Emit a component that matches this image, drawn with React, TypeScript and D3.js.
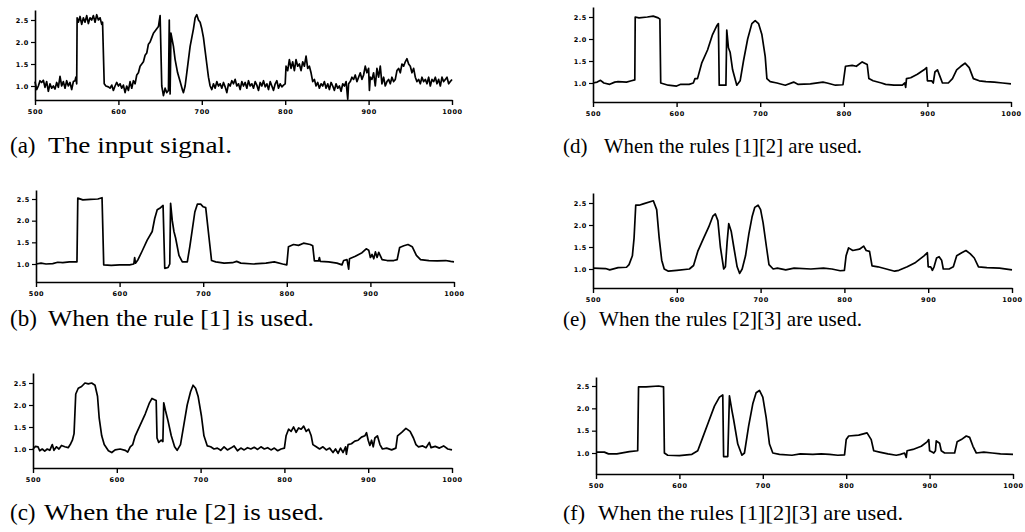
import React, { useEffect, useRef } from "react"
import * as d3 from "d3"

type Pt = [number, number]

// (a) the noisy input signal
const signalA: Pt[] = [
  [500, 1.1], [502, 0.92], [504, 1.0], [506, 1.12], [508, 1.08], [510, 1.13], [512, 0.97], [514, 1.1],
  [516, 0.88], [518, 1.05], [520, 0.95], [522, 1.0], [524, 0.93], [526, 1.08], [528, 0.97], [530, 1.22],
  [532, 1.0], [534, 1.1], [536, 0.95], [538, 1.12], [540, 1.0], [542, 1.08], [544, 0.92], [546, 1.1],
  [548, 1.12], [549, 1.2], [550, 1.05], [550.5, 2.55], [552, 2.45], [554, 2.58], [556, 2.4], [558, 2.55],
  [560, 2.45], [562, 2.6], [564, 2.42], [566, 2.55], [568, 2.5], [570, 2.6], [572, 2.45], [574, 2.62],
  [576, 2.5], [578, 2.55], [580, 2.4], [581, 2.45], [583, 1.05], [585, 1.0], [588, 0.98], [590, 0.95],
  [592, 1.02], [594, 0.9], [596, 1.0], [598, 1.08], [600, 1.0], [602, 1.05], [604, 0.95], [606, 1.02],
  [608, 0.85], [610, 1.0], [612, 0.9], [614, 1.1], [616, 0.95], [618, 1.12], [620, 1.05], [622, 1.25],
  [624, 1.3], [626, 1.45], [628, 1.5], [630, 1.55], [632, 1.7], [634, 1.75], [636, 1.95], [638, 2.0],
  [640, 2.1], [642, 2.2], [644, 2.25], [646, 2.3], [648, 2.35], [650, 2.6], [652, 1.0], [654, 0.78],
  [656, 0.95], [658, 0.85], [660, 0.9], [661, 2.5], [662, 0.82], [663, 2.2], [666, 1.9], [668, 1.6],
  [671, 1.3], [674, 1.1], [677, 0.9], [678, 0.85], [680, 1.0], [682, 1.3], [684, 1.6], [686, 1.9],
  [688, 2.1], [690, 2.3], [692, 2.55], [694, 2.62], [696, 2.5], [698, 2.45], [700, 2.3], [702, 2.1],
  [704, 1.8], [706, 1.5], [708, 1.2], [710, 1.0], [712, 0.92], [714, 1.05], [716, 0.95], [718, 1.1],
  [720, 1.0], [722, 1.05], [724, 0.95], [726, 1.08], [728, 0.98], [730, 0.85], [732, 1.05], [734, 1.0],
  [736, 1.12], [738, 1.05], [740, 1.15], [742, 1.0], [744, 1.05], [746, 0.92], [748, 1.1], [750, 1.0],
  [752, 1.08], [754, 0.95], [756, 1.12], [758, 1.0], [760, 1.05], [762, 0.95], [764, 1.1], [766, 1.02],
  [768, 0.9], [770, 1.08], [772, 1.0], [774, 1.12], [776, 0.98], [778, 1.05], [780, 0.92], [782, 1.1],
  [784, 1.0], [786, 0.9], [788, 1.05], [790, 1.12], [792, 0.95], [794, 1.05], [796, 0.98], [798, 1.02],
  [800, 1.05], [801, 1.45], [803, 1.35], [805, 1.6], [807, 1.4], [809, 1.55], [811, 1.35], [813, 1.6],
  [815, 1.45], [817, 1.5], [819, 1.35], [821, 1.55], [823, 1.45], [825, 1.68], [827, 1.4], [829, 1.45],
  [831, 1.3], [833, 1.1], [835, 1.15], [837, 1.0], [839, 1.08], [841, 0.95], [843, 1.05], [845, 1.0],
  [847, 1.1], [849, 0.95], [851, 1.05], [853, 0.92], [855, 1.08], [857, 1.0], [859, 0.9], [861, 1.05],
  [863, 0.95], [865, 1.0], [867, 0.88], [869, 1.05], [871, 1.0], [873, 1.1], [875, 0.7], [876, 1.05],
  [878, 1.1], [880, 1.2], [882, 1.15], [884, 1.25], [886, 1.1], [888, 1.2], [890, 1.3], [892, 1.15],
  [894, 1.25], [896, 1.45], [898, 1.3], [900, 1.4], [901, 0.9], [902, 1.2], [904, 1.15], [906, 1.3],
  [908, 1.0], [910, 1.4], [912, 1.2], [914, 1.45], [916, 1.05], [918, 1.2], [920, 1.0], [922, 1.1],
  [924, 1.15], [926, 1.05], [928, 1.2], [930, 1.1], [932, 1.15], [934, 1.35], [936, 1.4], [938, 1.3],
  [940, 1.5], [942, 1.45], [944, 1.55], [946, 1.62], [948, 1.5], [950, 1.45], [952, 1.3], [954, 1.4],
  [956, 1.2], [958, 1.1], [960, 1.15], [962, 1.05], [964, 1.2], [966, 1.1], [968, 1.15], [970, 1.05],
  [972, 1.2], [974, 1.0], [976, 1.15], [978, 1.1], [980, 1.2], [982, 1.05], [984, 1.15], [986, 1.0],
  [988, 1.2], [990, 1.1], [992, 1.15], [994, 1.2], [996, 1.05], [998, 1.1], [1000, 1.15],
]

// (b) rule [1]
const signalB: Pt[] = [
  [500, 1.0], [506, 1.02], [512, 1.0], [520, 1.01], [526, 1.04], [532, 1.03], [540, 1.05], [549, 1.05],
  [550, 2.52], [556, 2.48], [565, 2.49], [574, 2.5], [579, 2.53], [581, 0.98], [590, 0.97], [600, 0.98],
  [612, 0.98], [617, 1.0], [618, 1.15], [619, 1.02], [622, 1.1], [627, 1.3], [633, 1.55], [639, 1.75],
  [642, 2.05], [645, 2.25], [649, 2.3], [652, 2.35], [654, 0.9], [658, 0.92], [660, 1.0], [661, 2.4],
  [663, 2.0], [665, 1.75], [667, 1.6], [671, 1.2], [675, 1.05], [681, 1.05], [684, 1.4], [687, 1.8],
  [690, 2.2], [693, 2.38], [697, 2.38], [700, 2.32], [703, 2.3], [707, 1.6], [710, 1.08], [715, 1.05],
  [725, 1.02], [735, 1.03], [740, 1.06], [745, 1.02], [760, 1.0], [775, 1.02], [785, 1.05], [795, 1.0],
  [800, 0.98], [802, 1.4], [808, 1.45], [814, 1.43], [820, 1.48], [828, 1.45], [831, 1.42], [833, 1.07],
  [838, 1.07], [839, 1.15], [840, 1.06], [850, 1.05], [860, 1.02], [866, 0.98], [868, 1.08], [872, 1.1],
  [874, 0.88], [875, 1.12], [882, 1.18], [890, 1.26], [895, 1.35], [898, 1.32], [900, 1.15], [902, 1.22],
  [904, 1.12], [906, 1.28], [908, 1.15], [910, 1.27], [914, 1.1], [920, 1.08], [928, 1.08], [932, 1.1],
  [935, 1.38], [940, 1.42], [945, 1.45], [950, 1.4], [955, 1.2], [960, 1.1], [970, 1.08], [980, 1.07],
  [990, 1.08], [996, 1.06], [1000, 1.05],
]

// (c) rule [2]
const signalC: Pt[] = [
  [500, 1.0], [503, 1.06], [506, 1.05], [508, 0.96], [511, 1.0], [514, 0.95], [517, 1.0], [520, 0.97],
  [523, 1.1], [525, 0.97], [528, 1.05], [531, 1.0], [534, 1.08], [538, 1.05], [542, 1.03], [545, 1.12],
  [547, 1.2], [549, 1.35], [551, 2.25], [554, 2.38], [558, 2.42], [562, 2.5], [566, 2.48], [570, 2.5],
  [574, 2.45], [577, 2.2], [579, 1.7], [582, 1.3], [585, 1.1], [590, 0.96], [594, 0.92], [598, 0.98],
  [604, 1.0], [610, 0.97], [613, 0.93], [616, 1.05], [619, 1.1], [622, 1.3], [628, 1.55], [634, 1.8],
  [639, 2.05], [642, 2.15], [645, 2.12], [647, 2.1], [648, 1.25], [650, 1.15], [653, 1.2], [655, 1.17],
  [656, 2.05], [658, 1.88], [661, 1.65], [665, 1.3], [669, 1.05], [672, 0.97], [676, 1.1], [680, 1.55],
  [684, 2.0], [688, 2.3], [691, 2.45], [694, 2.38], [697, 2.2], [701, 1.75], [704, 1.3], [708, 1.07],
  [712, 1.05], [716, 1.0], [720, 1.02], [724, 0.97], [728, 1.05], [732, 0.98], [736, 1.02], [740, 1.07],
  [744, 0.96], [748, 1.02], [752, 0.98], [756, 1.03], [760, 1.0], [764, 1.04], [768, 0.99], [772, 1.05],
  [776, 1.0], [780, 1.03], [784, 0.98], [788, 1.02], [792, 0.96], [796, 1.0], [800, 1.02], [802, 1.3],
  [805, 1.45], [808, 1.4], [811, 1.5], [814, 1.38], [817, 1.48], [820, 1.45], [823, 1.52], [826, 1.4],
  [829, 1.45], [832, 1.3], [834, 1.1], [838, 1.05], [842, 1.0], [846, 1.05], [850, 0.98], [854, 1.02],
  [858, 0.92], [861, 1.0], [864, 0.9], [867, 1.02], [870, 0.92], [873, 1.05], [874, 0.88], [876, 1.1],
  [880, 1.12], [884, 1.18], [888, 1.2], [892, 1.27], [896, 1.3], [898, 1.37], [900, 1.2], [902, 1.08],
  [904, 1.2], [906, 1.05], [908, 1.25], [911, 1.3], [914, 1.1], [917, 1.0], [922, 1.02], [928, 0.98],
  [933, 1.02], [935, 1.3], [940, 1.38], [945, 1.47], [950, 1.4], [954, 1.25], [957, 1.1], [960, 1.05],
  [965, 1.07], [969, 1.03], [973, 1.15], [975, 1.03], [980, 1.06], [985, 1.02], [990, 1.07], [995, 1.0],
  [1000, 0.98],
]

// (d) rules [1][2]
const signalD: Pt[] = [
  [500, 1.0], [505, 1.02], [509, 1.06], [513, 1.0], [520, 0.97], [526, 1.02], [530, 1.03], [540, 1.02],
  [546, 1.05], [550, 1.07], [550.5, 2.5], [555, 2.48], [565, 2.5], [572, 2.52], [578, 2.48], [580, 2.45],
  [581, 1.0], [590, 0.95], [600, 0.93], [605, 0.97], [615, 0.97], [620, 1.0], [622, 1.1], [625, 1.1],
  [630, 1.45], [637, 1.75], [643, 2.1], [648, 2.3], [650, 2.35], [651, 0.95], [659, 0.95], [660, 2.2],
  [662, 1.8], [664, 1.7], [667, 1.3], [672, 0.95], [676, 1.05], [680, 1.5], [685, 2.0], [690, 2.35],
  [694, 2.42], [698, 2.35], [702, 2.1], [706, 1.6], [708, 1.1], [712, 1.03], [720, 1.0], [730, 0.95],
  [740, 1.02], [745, 0.97], [760, 0.98], [775, 1.02], [780, 1.0], [790, 0.95], [799, 0.96], [802, 1.38],
  [810, 1.4], [815, 1.38], [822, 1.48], [828, 1.42], [830, 1.1], [835, 1.05], [845, 1.0], [850, 0.97],
  [860, 0.95], [870, 0.95], [873, 1.0], [874, 0.9], [875, 1.1], [880, 1.12], [888, 1.2], [896, 1.3],
  [899, 1.35], [900, 1.05], [905, 1.05], [907, 1.0], [909, 1.25], [912, 1.3], [915, 1.15], [918, 1.0],
  [925, 1.0], [930, 1.1], [935, 1.3], [940, 1.38], [945, 1.45], [950, 1.35], [955, 1.1], [962, 1.05],
  [970, 1.03], [980, 1.02], [990, 1.0], [1000, 0.98],
]

// (e) rules [2][3]
const signalE: Pt[] = [
  [500, 1.02], [515, 1.01], [520, 0.98], [530, 1.03], [540, 1.04], [543, 1.1], [547, 1.3], [549, 1.7],
  [551, 2.45], [555, 2.45], [560, 2.48], [572, 2.55], [576, 2.35], [579, 1.7], [582, 1.2], [585, 1.0],
  [590, 0.95], [600, 0.97], [615, 1.0], [620, 1.08], [625, 1.4], [632, 1.7], [638, 1.95], [643, 2.2],
  [646, 2.25], [649, 2.1], [652, 1.5], [656, 1.0], [658, 1.05], [660, 1.6], [662, 2.03], [665, 1.85],
  [668, 1.5], [672, 1.05], [675, 0.9], [678, 1.0], [682, 1.3], [686, 1.8], [690, 2.2], [693, 2.4],
  [697, 2.45], [700, 2.35], [703, 2.05], [707, 1.5], [710, 1.1], [715, 1.0], [720, 1.02], [730, 0.98],
  [740, 1.02], [760, 1.0], [775, 1.02], [785, 1.0], [795, 0.96], [800, 0.97], [802, 1.3], [805, 1.48],
  [810, 1.42], [818, 1.45], [823, 1.52], [826, 1.42], [830, 1.4], [833, 1.07], [840, 1.05], [850, 1.0],
  [860, 0.95], [865, 0.97], [875, 1.05], [885, 1.15], [895, 1.3], [899, 1.37], [900, 1.05], [903, 1.05],
  [905, 0.97], [907, 1.05], [910, 1.25], [913, 1.28], [916, 1.2], [918, 1.0], [925, 1.0], [930, 1.05],
  [934, 1.3], [940, 1.37], [945, 1.42], [950, 1.35], [955, 1.25], [960, 1.05], [970, 1.03], [985, 1.02],
  [1000, 0.98],
]

// (f) rules [1][2][3]
const signalF: Pt[] = [
  [500, 1.02], [510, 1.02], [515, 0.98], [525, 0.98], [540, 1.03], [550, 1.05], [551, 2.48], [560, 2.48],
  [575, 2.5], [581, 2.48], [582, 1.0], [586, 0.95], [600, 0.94], [615, 0.97], [622, 1.05], [628, 1.35],
  [635, 1.7], [642, 2.05], [648, 2.25], [652, 2.3], [653, 0.92], [658, 0.92], [660, 2.28], [663, 1.95],
  [665, 1.75], [670, 1.2], [675, 0.95], [678, 1.0], [683, 1.6], [688, 2.1], [692, 2.35], [696, 2.4],
  [700, 2.25], [704, 1.8], [708, 1.2], [712, 1.0], [720, 0.97], [735, 0.95], [745, 0.98], [760, 0.97],
  [770, 0.98], [780, 0.97], [790, 0.95], [798, 0.96], [800, 1.3], [803, 1.38], [815, 1.4], [825, 1.45],
  [830, 1.3], [833, 1.05], [840, 1.02], [850, 0.98], [860, 0.95], [865, 0.97], [870, 1.0], [872, 0.9],
  [873, 1.05], [880, 1.08], [890, 1.15], [897, 1.25], [899, 1.3], [900, 1.05], [903, 1.02], [905, 1.0],
  [907, 1.05], [908, 1.27], [912, 1.22], [914, 1.05], [918, 1.0], [925, 1.0], [930, 1.0], [933, 1.25],
  [938, 1.3], [944, 1.38], [948, 1.35], [952, 1.15], [956, 1.0], [965, 1.02], [975, 1.0], [985, 0.98],
  [1000, 0.97],
]

const xTicks = [500, 600, 700, 800, 900, 1000]
const yTicks = [1.0, 1.5, 2.0, 2.5]

const captionLabels = ["(a)", "(b)", "(c)", "(d)", "(e)", "(f)"]
const captionTexts = [
  "The input signal.",
  "When the rule [1] is used.",
  "When the rule [2] is used.",
  "When the rules [1][2] are used.",
  "When the rules [2][3] are used.",
  "When the rules [1][2][3] are used.",
]
const series = [signalA, signalB, signalC, signalD, signalE, signalF]

// pixel frame of each panel: axis extents, where 1.0 and 2.5 fall, caption placement
const frames = [
  { left: 35, right: 452, top: 10, bottom: 100, y1: 86, y25: 20, capY: 153, labX: 10, txtX: 48, txtW: 184, fs: 23 },
  { left: 36, right: 454, top: 190, bottom: 282, y1: 264, y25: 199, capY: 326, labX: 10, txtX: 48, txtW: 266, fs: 23 },
  { left: 33, right: 452, top: 373, bottom: 468, y1: 449, y25: 383, capY: 520, labX: 10, txtX: 44, txtW: 280, fs: 23 },
  { left: 593, right: 1011, top: 7, bottom: 102, y1: 83, y25: 17, capY: 153, labX: 563, txtX: 604, txtW: 258, fs: 21 },
  { left: 593, right: 1012, top: 193, bottom: 288, y1: 269, y25: 203, capY: 326, labX: 563, txtX: 599, txtW: 263, fs: 21 },
  { left: 596, right: 1013, top: 377, bottom: 474, y1: 453, y25: 386, capY: 520, labX: 563, txtX: 598, txtW: 305, fs: 22 },
]

const App = () => {
  const ref = useRef<SVGSVGElement>(null)

  useEffect(() => {
    const svg = d3.select(ref.current)
    svg.selectAll("*").remove()

    frames.forEach((f, i) => {
      const x = d3.scaleLinear().domain([500, 1000]).range([f.left, f.right])
      const base = d3.scaleLinear().domain([1, 2.5]).range([f.y1, f.y25])
      const y = d3
        .scaleLinear()
        .domain([base.invert(f.bottom), base.invert(f.top)])
        .range([f.bottom, f.top])

      const g = svg.append("g")

      g.append("g")
        .attr("transform", `translate(0,${f.bottom})`)
        .call(
          d3
            .axisBottom(x)
            .tickValues(xTicks)
            .tickFormat(d3.format("d"))
            .tickSize(5)
            .tickSizeOuter(0)
        )
        .call(a => a.select(".domain").attr("stroke-width", 1.6))
        .call(a => a.selectAll(".tick line").attr("stroke-width", 1.4))
        .call(a =>
          a
            .selectAll("text")
            .attr("dy", "0.9em")
            .attr("font-size", 6.5)
            .attr("font-weight", "bold")
            .attr("letter-spacing", 0.6)
            .attr("font-family", "DejaVu Sans")
        )

      g.append("g")
        .attr("transform", `translate(${f.left},0)`)
        .call(
          d3
            .axisLeft(y)
            .tickValues(yTicks)
            .tickFormat(d3.format(".1f"))
            .tickSize(4)
            .tickSizeOuter(0)
        )
        .call(a => a.select(".domain").attr("stroke-width", 1.6))
        .call(a => a.selectAll(".tick line").attr("stroke-width", 1.2))
        .call(a =>
          a
            .selectAll("text")
            .attr("x", -6)
            .attr("font-size", 6.5)
            .attr("font-weight", "bold")
            .attr("letter-spacing", 0.6)
            .attr("font-family", "DejaVu Sans")
        )

      const line = d3
        .line<Pt>()
        .x(d => x(d[0]))
        .y(d => y(d[1]))

      g.append("path")
        .datum(series[i])
        .attr("fill", "none")
        .attr("stroke", "#000")
        .attr("stroke-width", 1.7)
        .attr("stroke-linejoin", "round")
        .attr("d", line)

      // caption: label and sentence as separate texts, sentence stretched to the scanned width
      g.append("text")
        .attr("x", f.labX)
        .attr("y", f.capY)
        .attr("font-family", "Liberation Serif")
        .attr("font-size", f.fs)
        .text(captionLabels[i])
      g.append("text")
        .attr("x", f.txtX)
        .attr("y", f.capY)
        .attr("font-family", "Liberation Serif")
        .attr("font-size", f.fs)
        .attr("textLength", f.txtW)
        .attr("lengthAdjust", "spacingAndGlyphs")
        .text(captionTexts[i])
    })
  }, [])

  return (
    <svg
      ref={ref}
      width={1025}
      height={532}
      style={{ position: "absolute", left: 0, top: 0, background: "#fff" }}
    />
  )
}

export default App
